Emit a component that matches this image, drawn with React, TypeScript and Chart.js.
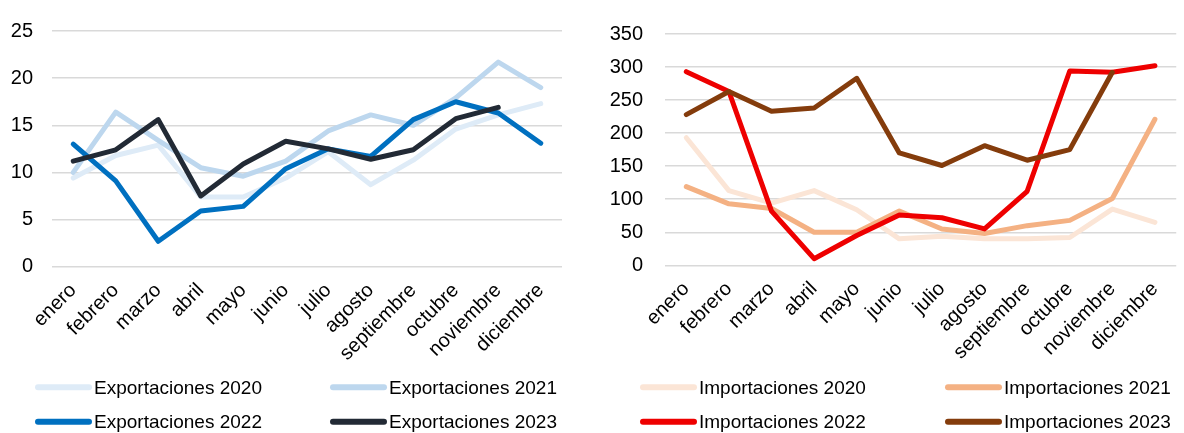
import React, { useEffect, useRef } from "react";
import { Chart, registerables } from "chart.js";

Chart.register(...registerables);

const months = ["enero", "febrero", "marzo", "abril", "mayo", "junio", "julio", "agosto", "septiembre", "octubre", "noviembre", "diciembre"];

const exp2020 = [9.4, 11.8, 12.9, 7.4, 7.4, 9.4, 12.2, 8.7, 11.3, 14.6, 16.1, 17.3];
const exp2021 = [10.0, 16.4, 13.4, 10.5, 9.6, 11.2, 14.4, 16.1, 15.0, 17.9, 21.7, 19.0];
const exp2022 = [13.0, 9.1, 2.7, 5.9, 6.4, 10.4, 12.5, 11.7, 15.6, 17.5, 16.3, 13.1];
const exp2023 = [11.2, 12.4, 15.6, 7.5, 10.9, 13.3, 12.5, 11.4, 12.4, 15.7, 16.9, null];

const imp2020 = [193, 113, 94, 113, 84, 40, 44, 40, 40, 42, 85, 65];
const imp2021 = [119, 93, 86, 50, 50, 82, 55, 48, 60, 68, 101, 221];
const imp2022 = [293, 263, 82, 10, 45, 76, 72, 55, 112, 294, 292, 302];
const imp2023 = [228, 263, 233, 238, 283, 170, 151, 181, 159, 175, 292, null];

const expLabels = ["Exportaciones 2020", "Exportaciones 2021", "Exportaciones 2022", "Exportaciones 2023"];
const impLabels = ["Importaciones 2020", "Importaciones 2021", "Importaciones 2022", "Importaciones 2023"];

const expColors = ["#DEEBF7", "#BDD7EE", "#0070C0", "#222A35"];
const impColors = ["#FBE5D6", "#F4B183", "#EE0000", "#843C0C"];

const FONT = '"Liberation Sans", Arial, sans-serif';
const TICK_SIZE = 20;
const LEGEND_SIZE = 19;

type Cfg = {
  series: (number | null)[][];
  labels: string[];
  colors: string[];
  yMax: number;
  yStep: number;
  width: number;
  height: number;
  yAxisWidth: number;
  yPad: number;
  plotTop: number;
  plotBottom: number;
  padRight: number;
  legendCols: number[];
  legendRows: number[];
};

function LineChart(props: Cfg) {
  const ref = useRef<HTMLCanvasElement | null>(null);
  useEffect(() => {
    if (!ref.current) return;
    const legendPlugin = {
      id: "gridLegend",
      afterDraw(chart: any) {
        const ctx = chart.ctx as CanvasRenderingContext2D;
        chart.data.datasets.forEach((ds: any, i: number) => {
          const x = props.legendCols[i % 2];
          const y = props.legendRows[Math.floor(i / 2)];
          ctx.save();
          ctx.strokeStyle = ds.borderColor;
          ctx.lineWidth = 6;
          ctx.lineCap = "round";
          ctx.beginPath();
          ctx.moveTo(x + 3, y);
          ctx.lineTo(x + 54, y);
          ctx.stroke();
          ctx.fillStyle = "#000";
          ctx.font = `${LEGEND_SIZE}px ${FONT}`;
          ctx.textBaseline = "middle";
          ctx.textAlign = "left";
          ctx.fillText(ds.label, x + 59, y + 1);
          ctx.restore();
        });
      },
    };
    const chart = new Chart(ref.current, {
      type: "line",
      data: {
        labels: months,
        datasets: props.series.map((d, i) => ({
          label: props.labels[i],
          data: d,
          borderColor: props.colors[i],
          backgroundColor: props.colors[i],
          borderWidth: 5,
          pointRadius: 0,
          pointHoverRadius: 0,
          tension: 0,
          fill: false,
          borderJoinStyle: "round" as const,
          borderCapStyle: "round" as const,
          spanGaps: false,
          order: 3 - i,
        })),
      },
      options: {
        responsive: false,
        animation: false,
        events: [],
        layout: { padding: { top: props.plotTop, right: props.padRight, bottom: 0, left: 0 } },
        plugins: { legend: { display: false }, tooltip: { enabled: false }, title: { display: false } },
        scales: {
          x: {
            type: "category",
            offset: true,
            grid: { display: false, drawTicks: false },
            border: { display: false },
            ticks: {
              minRotation: 45,
              maxRotation: 45,
              autoSkip: false,
              padding: 12,
              color: "#000",
              font: { family: FONT, size: TICK_SIZE },
            },
            afterFit: (s: any) => {
              s.height = props.height - props.plotBottom;
            },
          },
          y: {
            min: 0,
            max: props.yMax,
            grid: { color: "#D9D9D9", lineWidth: 1.5, drawTicks: false },
            border: { display: false },
            ticks: {
              stepSize: props.yStep,
              padding: props.yPad,
              color: "#000",
              font: { family: FONT, size: TICK_SIZE },
            },
            afterFit: (s: any) => {
              s.width = props.yAxisWidth;
            },
          },
        },
      },
      plugins: [legendPlugin],
    });
    return () => chart.destroy();
  }, []);
  return <canvas ref={ref} width={props.width} height={props.height} style={{ width: props.width, height: props.height, display: "block" }} />;
}

export default function App() {
  return (
    <div style={{ position: "absolute", left: 0, top: 0, width: 1184, height: 433, background: "#fff" }}>
      <div style={{ position: "absolute", left: 0, top: 0 }}>
        <LineChart
          series={[exp2020, exp2021, exp2022, exp2023]}
          labels={expLabels}
          colors={expColors}
          yMax={25}
          yStep={5}
          width={600}
          height={433}
          yAxisWidth={52}
          yPad={19}
          plotTop={17.3}
          plotBottom={266.7}
          padRight={38}
          legendCols={[35, 330]}
          legendRows={[387.3, 421.7]}
        />
      </div>
      <div style={{ position: "absolute", left: 600, top: 0 }}>
        <LineChart
          series={[imp2020, imp2021, imp2022, imp2023]}
          labels={impLabels}
          colors={impColors}
          yMax={350}
          yStep={50}
          width={584}
          height={433}
          yAxisWidth={65}
          yPad={22}
          plotTop={17.3}
          plotBottom={265.3}
          padRight={2}
          legendCols={[40, 345]}
          legendRows={[387.3, 421.7]}
        />
      </div>
    </div>
  );
}
